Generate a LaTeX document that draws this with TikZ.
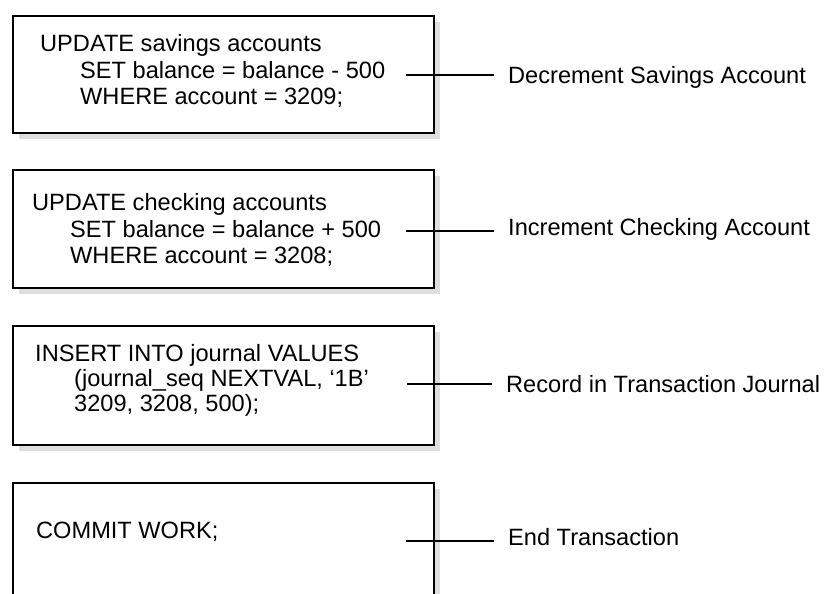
\documentclass[tikz,border=0pt]{standalone}
\usepackage{fontspec}
\setmainfont{Liberation Sans}
\usetikzlibrary{shadows}
\begin{document}
\begin{tikzpicture}[x=1pt,y=-1pt,
  box/.style={draw=black, line width=2pt, fill=white, rectangle, anchor=north west,
    minimum width=421pt, inner sep=0pt,
    drop shadow={shadow xshift=6pt, shadow yshift=-6pt, fill=black!13, opacity=1}},
  codeline/.style={anchor=base west, inner sep=0pt, font=\fontsize{23.6}{27}\selectfont},
  lbl/.style={anchor=base west, inner xsep=14pt, inner ysep=0pt, font=\fontsize{23.6}{27}\selectfont},
  conn/.style={draw=black, line width=1.6pt}]
\useasboundingbox (0,0) rectangle (828,594);
\clip (0,0) rectangle (828,594);
% boxes
\node[box, minimum height=117pt] (b1) at (12,15) {};
\node[box, minimum height=118pt] (b2) at (12,169) {};
\node[box, minimum height=119pt] (b3) at (12,325) {};
\node[box, minimum height=160pt] (b4) at (12,482) {};
% box 1 text
\node[codeline] (t11) at (40,52) {UPDATE savings accounts};
\node[codeline] (t12) at (80,79) {SET balance = balance - 500};
\node[codeline] (t13) at (80,105) {WHERE account = 3209;};
% box 2 text
\node[codeline] (t21) at (32,210.5) {UPDATE checking accounts};
\node[codeline] (t22) at (70,237) {SET balance = balance + 500};
\node[codeline] (t23) at (70,263) {WHERE account = 3208;};
% box 3 text
\node[codeline] (t31) at (35,361.5) {INSERT INTO journal VALUES};
\node[codeline] (t32) at (74,386) {(journal\_seq NEXTVAL, ‘1B’};
\node[codeline] (t33) at (74,411) {3209, 3208, 500);};
% box 4 text
\node[codeline] (t41) at (36,538.5) {COMMIT WORK;};
% labels
\node[lbl] (l1) at (494,84) {Decrement Savings Account};
\node[lbl] (l2) at (494,235) {Increment Checking Account};
\node[lbl] (l3) at (492,392) {Record in Transaction Journal};
\node[lbl] (l4) at (494,545) {End Transaction};
% connectors
\coordinate (c1) at (406,75);
\coordinate (c2) at (406,231);
\coordinate (c3) at (407,384);
\coordinate (c4) at (406,541);
\draw[conn] (c1) -- (c1 -| l1.west);
\draw[conn] (c2) -- (c2 -| l2.west);
\draw[conn] (c3) -- (c3 -| l3.west);
\draw[conn] (c4) -- (c4 -| l4.west);
\end{tikzpicture}
\end{document}
